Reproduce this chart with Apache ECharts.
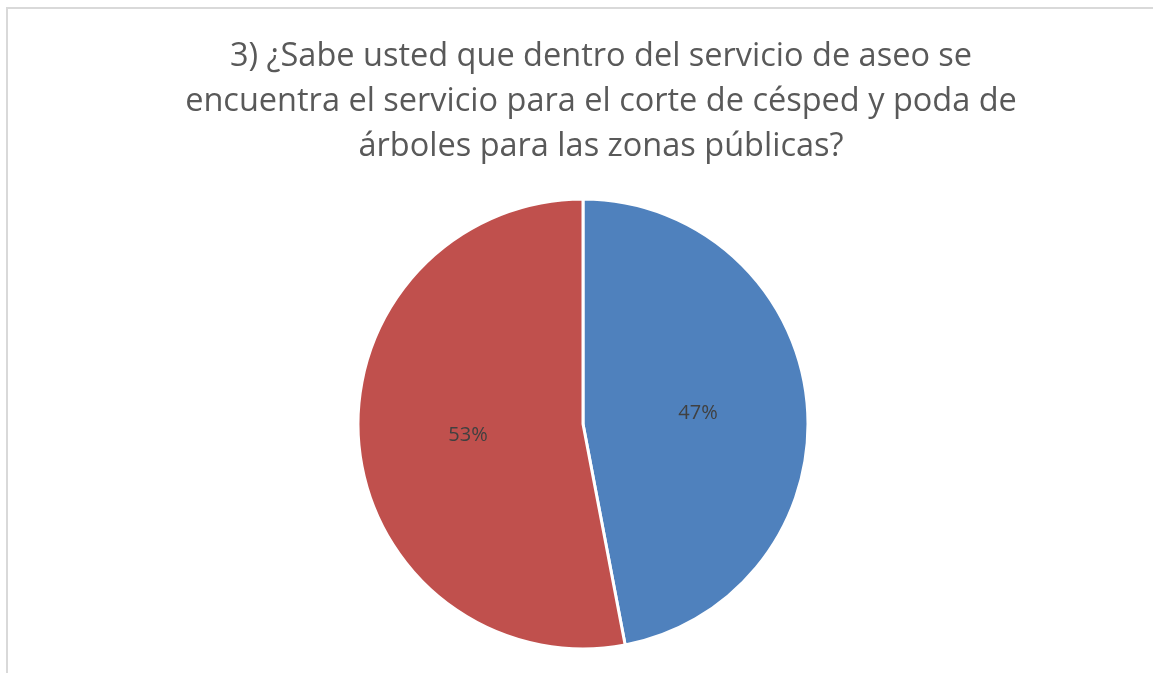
<!DOCTYPE html>
<html>
<head>
<meta charset="utf-8">
<script src="https://cdn.jsdelivr.net/npm/echarts@6/dist/echarts.min.js"></script>
<style>
  html, body { margin: 0; padding: 0; background: #fff; }
  #chart { width: 1153px; height: 673px; }
</style>
</head>
<body>
<div id="chart"></div>
<script>
// respuestas de la encuesta
const categories = ['Sí', 'No']
const values = [47, 53]
const colors = ['#4F81BD', '#C0504D']
const titleText = '3) ¿Sabe usted que dentro del servicio de aseo se\nencuentra el servicio para el corte de césped y poda de\nárboles para las zonas públicas?'

let myChart = echarts.init(document.getElementById('chart'))
myChart.setOption({
    animation: false,
    title: {
        text: titleText,
        left: 596,
        textAlign: 'center',
        top: 29,
        textStyle: {
            fontFamily: 'Open Sans',
            fontSize: 32.5,
            fontWeight: 'normal',
            color: '#595959',
            lineHeight: 45
        }
    },
    // marco gris del área del gráfico
    graphic: [{
        type: 'rect',
        shape: { x: 7, y: 8, width: 1200, height: 700 },
        style: { fill: null, stroke: '#d9d9d9', lineWidth: 2 },
        silent: true
    }],
    series: [{
        type: 'pie',
        center: [583, 424],
        radius: 225,
        startAngle: 90,
        clockwise: true,
        data: categories.map((c, i) => ({
            name: c,
            value: values[i],
            itemStyle: { color: colors[i] }
        })),
        itemStyle: { borderColor: '#fff', borderWidth: 3 },
        label: {
            position: 'inside',
            formatter: '{d}%',
            fontFamily: 'Open Sans',
            fontSize: 20,
            color: '#404040'
        },
        labelLine: { show: false },
        emphasis: { disabled: true }
    }]
})
</script>
</body>
</html>
